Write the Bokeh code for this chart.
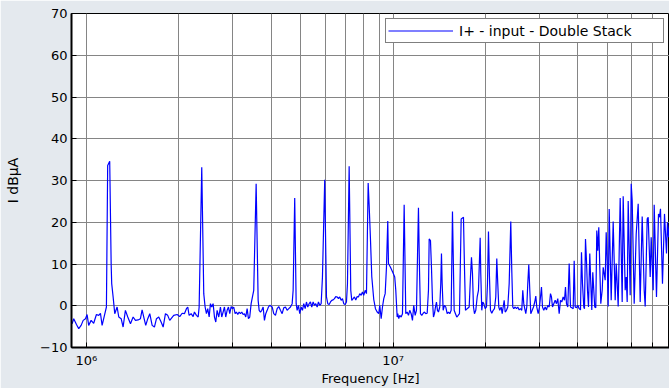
from bokeh.plotting import figure
from bokeh.models import ColumnDataSource, FixedTicker
from bokeh.embed import file_html
from bokeh.resources import INLINE

freq_mhz = [
    0.898, 0.909, 0.928, 0.944, 0.961, 0.976, 0.993, 1.005, 1.017, 1.036, 1.056, 1.078,
    1.097, 1.111, 1.125, 1.145, 1.162, 1.173, 1.191, 1.204, 1.209, 1.222, 1.237,
    1.259, 1.275, 1.298, 1.317, 1.340, 1.364, 1.392, 1.420, 1.445, 1.474, 1.500, 1.519,
    1.538, 1.561, 1.585, 1.609, 1.638, 1.666, 1.692, 1.721, 1.752, 1.779, 1.810, 1.841, 1.869,
    1.926, 1.976, 2.015, 2.052, 2.087, 2.119, 2.140, 2.162, 2.195, 2.228, 2.250, 2.284,
    2.314, 2.331, 2.377, 2.413, 2.438, 2.462, 2.486, 2.513, 2.537, 2.562, 2.589, 2.615,
    2.641, 2.668, 2.701, 2.735, 2.762, 2.791, 2.819, 2.846, 2.876, 2.905, 2.933, 2.964,
    2.993, 3.022, 3.054, 3.084, 3.115, 3.148, 3.178, 3.210, 3.243, 3.275, 3.308, 3.342,
    3.375, 3.408, 3.444, 3.478, 3.512, 3.576, 3.630, 3.658, 3.694, 3.730, 3.769, 3.806,
    3.844, 3.884, 3.922, 3.961,
    4.033, 4.081, 4.134, 4.187, 4.238, 4.292, 4.347, 4.399, 4.456, 4.513, 4.568, 4.627,
    4.686, 4.721, 4.777, 4.829, 4.865, 4.913, 4.961, 5.014, 5.063, 5.112, 5.167, 5.217,
    5.268, 5.324, 5.376, 5.429, 5.486, 5.540, 5.595, 5.654, 5.709, 5.765, 5.826, 5.883,
    5.984, 6.063, 6.122, 6.187, 6.248, 6.309, 6.375, 6.438, 6.502, 6.570, 6.634, 6.699,
    6.770, 6.837, 6.903, 6.977, 7.045, 7.098, 7.189, 7.276, 7.331, 7.408, 7.481, 7.555,
    7.634, 7.709, 7.785, 7.867, 7.944, 8.022, 8.107, 8.187, 8.292, 8.354, 8.436, 8.519,
    8.647, 8.759, 8.872, 8.979, 9.046, 9.142, 9.232, 9.322, 9.421, 9.513, 9.606, 9.657,
    9.803, 9.973, 10.122, 10.202, 10.309, 10.356, 10.434, 10.512, 10.623, 10.728, 10.865, 10.997,
    11.112, 11.221, 11.331, 11.451, 11.563, 11.676, 11.800, 11.916, 12.096, 12.187, 12.279, 12.400,
    12.531, 12.654, 12.779, 12.914, 13.040, 13.109, 13.238, 13.337, 13.438, 13.539, 13.641, 13.744,
    13.847, 13.951, 14.057, 14.194, 14.301, 14.377, 14.452, 14.561, 14.704, 14.849, 15.006, 15.153,
    15.301, 15.463, 15.615, 15.815, 15.971, 16.127, 16.298, 16.458, 16.669, 16.833, 16.959, 17.087,
    17.216, 17.437, 17.701, 17.875, 18.010, 18.145, 18.282, 18.420, 18.602, 18.797, 18.981, 19.225,
    19.311, 19.457, 19.603, 19.751, 19.960, 20.156, 20.308, 20.461, 20.615, 20.771, 20.974, 21.195,
    21.404, 21.615, 21.777, 21.941, 22.107, 22.273, 22.508, 22.678, 22.849, 23.021, 23.195, 23.422,
    23.652, 23.902, 24.190, 24.373, 24.556, 24.741, 25.003, 25.249, 25.497, 25.766, 26.019, 26.274,
    26.471, 26.671, 26.865, 27.077, 27.279, 27.485, 27.692, 27.901, 28.111, 28.408, 28.687, 28.960,
    29.189, 29.406, 29.717, 30.008, 30.235, 30.463, 30.692, 30.992, 31.320, 31.628, 31.938, 32.276,
    32.592, 32.838, 33.086, 33.409, 33.763, 34.094, 34.428, 34.792, 35.134, 35.478, 35.852, 36.205,
    36.478, 36.753, 37.114, 37.506, 37.874, 38.245, 38.648, 38.940, 39.234, 39.619, 40.008, 40.430,
    40.827, 41.135, 41.445, 41.850, 42.072, 42.390, 42.708, 43.030, 43.354, 43.779, 44.109, 44.442,
    44.775, 45.113, 45.441, 45.800, 46.142, 46.490, 46.840, 47.193, 47.549, 48.051, 48.412, 48.777,
    49.146, 49.518, 49.890, 50.265, 50.644, 51.410, 52.187, 52.978, 53.380, 53.780, 54.185, 55.005,
    55.837, 56.257, 57.109, 57.543, 57.974, 58.411, 59.295, 59.741, 60.191, 61.101, 62.030, 62.965,
    63.918, 64.885, 65.866, 66.363, 67.367, 67.874, 68.902, 69.421, 70.470, 71.001, 72.240, 73.333,
    73.886, 74.443, 75.570, 76.713, 77.873, 78.460, 79.051, 79.647,
]

level_dbua = [
    -4.3, -3.1, -4.5, -5.5, -4.7, -3.5, -3.1, -2.1, -4.7, -3.5, -4.2, -2.1,
    -2.3, -1.8, -4.7, -2.3, -0.3, 33.6, 34.6, 10.0, 5.3, 2.1, -1.9,
    -0.3, -2.7, -3.1, -5.1, -1.1, -2.7, -4.3, -2.7, -3.5, -3.4, -3.1, -1.0,
    -2.7, -4.7, -3.1, -1.9, -4.7, -5.1, -3.1, -2.7, -3.9, -5.1, -1.9, -2.3, -3.5,
    -2.3, -2.1, -2.6, -1.8, -1.9, -0.7, -0.3, -2.3, -1.9, -2.6, -1.5, -2.3,
    -2.7, -0.3, 33.2, 2.9, -0.3, -1.9, -0.7, -2.7, 0.5, -0.3, 0.5, -2.7,
    -3.9, -1.1, -2.7, -0.3, -2.7, -1.5, -0.3, -2.7, -1.1, -0.3, -1.9, -0.2,
    -0.7, -0.3, -1.9, -1.5, -2.1, -1.5, -1.9, -1.5, -2.1, -1.9, -2.7, -0.7,
    -3.1, -2.7, 0.5, 2.1, 3.7, 29.2, 1.3, -1.1, -1.5, -1.1, -0.3, -3.5,
    -1.9, -1.1, -0.3, 0.1,
    -0.3, -1.9, -2.3, -0.7, -0.2, -1.1, -1.9, -0.5, -0.3, -1.1, -0.7, -0.3,
    0.5, 3.7, 25.8, 0.5, -1.1, 0.1, -1.9, -0.3, -1.1, 0.5, -0.7, 0.9,
    -0.3, 0.5, 0.9, -0.3, 0.9, 0.1, 0.5, -0.3, 0.9, 0.1, 0.5, 6.9,
    30.2, 2.1, 0.5, 0.3, 0.9, 1.3, 1.4, 1.7, 2.2, 2.1, 1.7, 2.1,
    1.3, 1.7, 0.5, 0.3, 0.9, 5.3, 33.4, 3.7, 1.3, 1.7, 2.1, 1.4,
    2.2, 2.1, 2.9, 2.5, 3.3, 2.5, 3.7, 2.9, 29.4, 24.0, 16.0, 7.0,
    1.5, -0.7, -1.5, -1.9, 0.1, -3.1, -0.3, 1.7, 2.9, 9.2, 20.3, 10.1,
    9.2, 8.0, 6.9, 3.7, -2.7, -1.9, -3.1, -2.3, -2.7, -1.9, 24.2, -1.9,
    -1.5, -2.3, -1.1, -1.9, -3.5, 0.1, -2.3, -1.1, 23.5, 9.2, -1.9, -2.3,
    -1.8, -1.5, -1.9, -1.8, 3.7, 16.0, 15.6, 9.2, 1.3, -2.7, -1.9, -0.3,
    0.9, -1.1, -1.5, -0.3, 5.3, 12.5, 5.3, -1.1, 0.1, -0.3, -1.9, -1.5,
    -1.9, -1.1, 22.6, -1.1, -1.9, -2.7, -2.3, -1.9, 20.8, 21.0, 21.2, 9.2,
    -1.1, -0.7, -0.3, 6.9, 11.6, 7.7, -0.3, -1.9, -1.1, 2.1, 3.7, 16.3,
    7.7, -1.1, 0.9, 0.5, -0.7, -0.3, 5.3, 17.8, 6.9, -1.1, -1.8, -1.1,
    -0.7, 2.1, 11.3, 5.3, -0.3, -1.1, -0.3, -1.9, -0.3, 1.3, -1.5, -1.1,
    -0.3, 5.3, 20.2, 8.5, -0.3, -0.7, -0.3, -0.7, -0.3, -1.0, -0.7, -1.1,
    3.7, 0.5, -0.7, -1.9, -0.3, 5.3, 9.9, 3.7, -1.9, -1.1, -0.3, 0.9,
    2.3, -0.3, -1.9, -0.3, 2.1, 4.5, -0.3, -1.1, -0.3, -1.0, 0.1, -0.3,
    2.9, 2.1, -0.3, 0.5, 1.3, 0.5, 1.7, -1.9, 1.3, 0.9, 2.1, 1.3,
    4.5, 0.5, -0.3, 10.1, -0.3, -0.5, -0.7, 10.8, -0.3, -0.5, 0.1, -0.7,
    -1.0, 12.8, 5.3, -0.3, -0.7, 16.0, 10.8, 3.7, -0.3, 12.5, 5.3, -1.0,
    8.0, 3.7, -0.3, -0.5, 18.0, 13.2, 18.8, 9.2, 0.5, 3.7, 9.2, 7.7,
    6.1, 17.6, 10.8, -0.2, 23.2, 1.3, 20.2, 1.3, 10.1, 5.3, -0.2, 25.8,
    0.9, 26.2, 3.7, 6.9, 0.9, 25.1, 2.5, 29.2, 25.2, 0.5, 17.2, 24.4,
    0.9, 21.4, 3.7, -0.2, 20.8, 21.2, 6.9, 16.4, 3.7, 24.2, 2.1, 22.0,
    21.2, 23.2, 5.3, 22.0, 12.5, 20.0, 16.4, 19.2,
]

major_ticks_hz = [1e6, 1e7]
minor_ticks_hz = [2e6, 3e6, 4e6, 5e6, 6e6, 7e6, 8e6, 9e6,
                  2e7, 3e7, 4e7, 5e7, 6e7, 7e7, 8e7]
major_tick_labels = {1000000: "10\u2076", 10000000: "10\u2077"}
y_ticks = [-10, 0, 10, 20, 30, 40, 50, 60, 70]

series_label = "I+ - input - Double Stack"

source = ColumnDataSource(dict(
    freq=[f * 1e6 for f in freq_mhz],
    level=level_dbua,
))

FONT = "DejaVu Sans"

p = figure(width=669, height=388, x_axis_type="log",
           x_range=(8.94e5, 7.965e7), y_range=(-10, 70),
           output_backend="svg", toolbar_location=None,
           min_border_left=71, min_border_right=0,
           min_border_top=13, min_border_bottom=41)

p.background_fill_color = "white"
p.border_fill_color = "#e4e9ee"
p.outline_line_color = "black"
p.outline_line_width = 1

p.line("freq", "level", source=source, line_color="#0000ff", line_width=1.2,
       legend_label=series_label)

xticker = FixedTicker(ticks=major_ticks_hz, minor_ticks=minor_ticks_hz)
xa = p.xaxis[0]
xa.ticker = xticker
xa.major_label_overrides = major_tick_labels
xa.axis_label = "Frequency [Hz]"
xa.axis_label_text_font = FONT
xa.axis_label_text_font_size = "13px"
xa.axis_label_text_font_style = "normal"
xa.axis_label_text_color = "black"
xa.axis_label_standoff = 0
xa.major_label_text_font = FONT
xa.major_label_text_font_size = "13px"
xa.major_label_text_color = "black"
xa.major_label_standoff = 5
xa.major_tick_in = 5
xa.major_tick_out = 0
xa.minor_tick_in = 5
xa.minor_tick_out = 0
xa.axis_line_width = 2
xa.axis_line_color = "black"

ya = p.yaxis[0]
ya.ticker = FixedTicker(ticks=y_ticks)
ya.axis_label = "I dB\u03bcA"
ya.axis_label_text_font = FONT
ya.axis_label_text_font_size = "14px"
ya.axis_label_text_font_style = "normal"
ya.axis_label_text_color = "black"
ya.axis_label_standoff = 16
ya.major_label_text_font = FONT
ya.major_label_text_font_size = "13px"
ya.major_label_text_color = "black"
ya.major_label_standoff = 4
ya.major_tick_in = 5
ya.major_tick_out = 0
ya.minor_tick_line_color = None
ya.axis_line_width = 2
ya.axis_line_color = "black"

p.xgrid.ticker = xticker
p.xgrid.grid_line_color = "#858585"
p.xgrid.minor_grid_line_color = "#858585"
p.ygrid.grid_line_color = "#858585"

leg = p.legend[0]
leg.location = "top_right"
leg.margin = 5
leg.padding = 2
leg.spacing = 0
leg.glyph_width = 65
leg.glyph_height = 19
leg.label_width = 202
leg.label_height = 19
leg.label_standoff = 6
leg.label_text_font = FONT
leg.label_text_font_size = "14px"
leg.label_text_color = "black"
leg.border_line_color = "black"
leg.border_line_width = 1
leg.background_fill_color = "white"
leg.background_fill_alpha = 1

open("out.html", "w").write(file_html(p, INLINE))
